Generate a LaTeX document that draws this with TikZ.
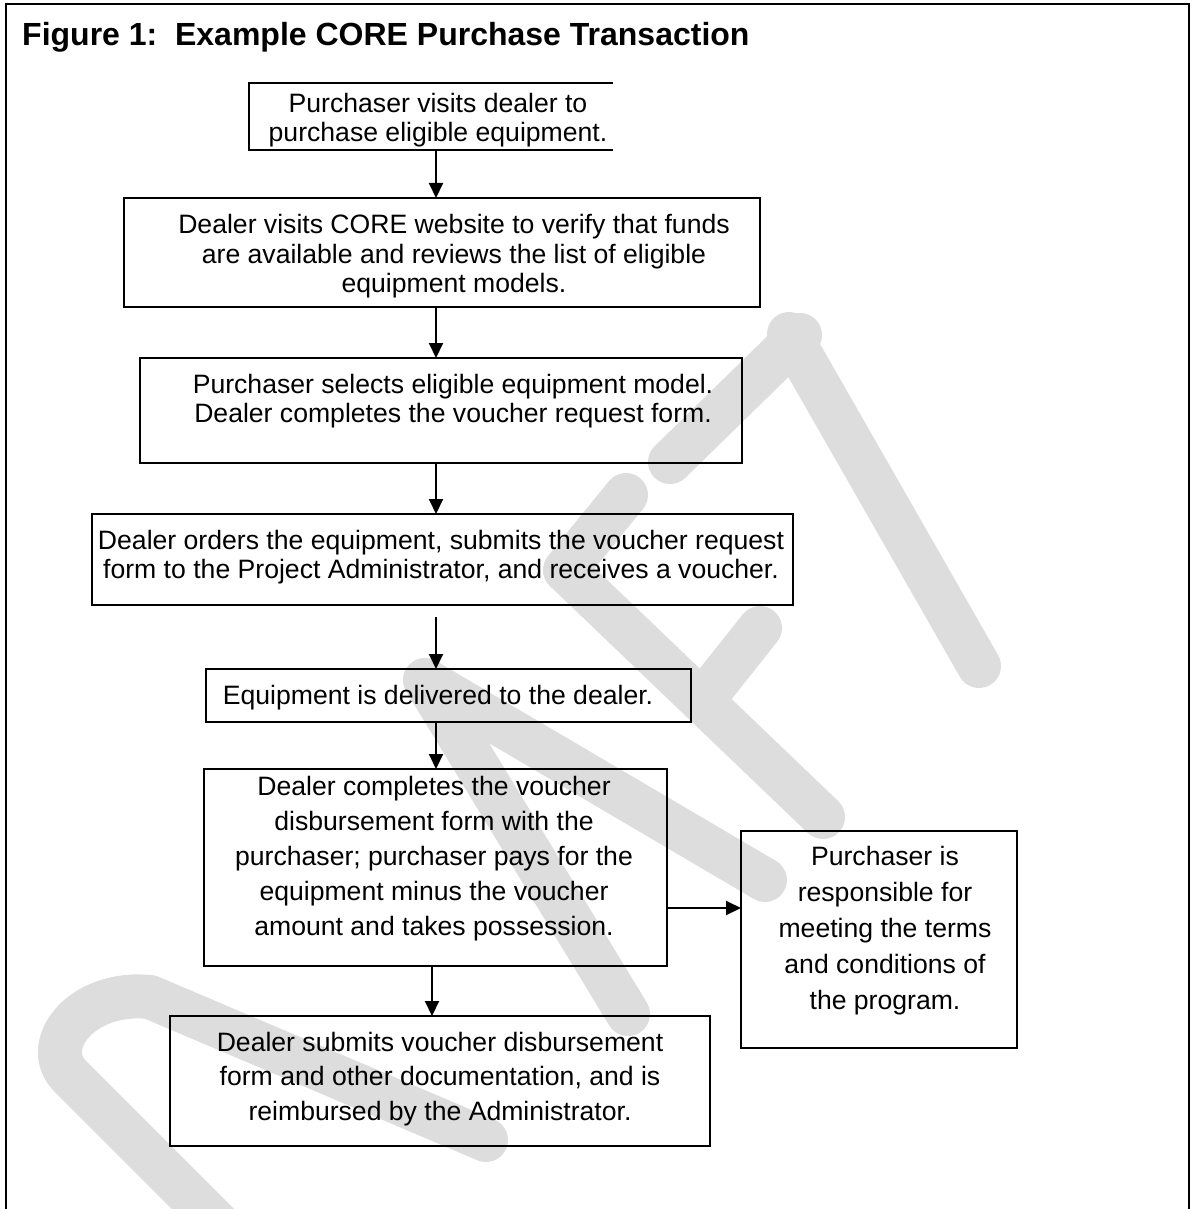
\documentclass[tikz,border=0pt]{standalone}
\usepackage{fontspec}
\setmainfont{Liberation Sans}
\usetikzlibrary{arrows.meta}
\definecolor{wmgray}{RGB}{221,221,221}
\begin{document}
\begin{tikzpicture}[x=1pt,y=-1pt,
  boxline/.style={draw=black,line width=2.8pt},
  box/.style={boxline,inner sep=0pt,outer sep=0pt},
  txt/.style={align=center,inner sep=0pt,font=\fontsize{26.6}{#1}\selectfont},
  txt/.default=29,
  arr/.style={draw=black,line width=2pt,-{Triangle[length=15pt,width=14pt]}},
  wm/.style={draw=wmgray,line width=44pt,line cap=round,line join=round}]
\useasboundingbox (0,0) rectangle (1191,1209);
% watermark (DRAFT)
\draw[wm] (230,1236) -- (70,1076) .. controls (40,1046) and (80,990) .. (150,997) -- (486,1140);
\draw[wm] (765,880) -- (425,680) -- (628,1014);
\draw[wm] (626,495) -- (565,570) -- (823,817);
\draw[wm] (760,628) -- (702,701);
\draw[wm] (670,462) -- (800,335);
\draw[wm] (789,334) -- (979,666);
% frame
\draw[draw=black,line width=2.6pt] (6,1215) -- (6,4) -- (1189,4) -- (1189,1215);
\node[anchor=base west,inner sep=0pt,font=\bfseries\fontsize{32}{36}\selectfont] (title) at (22,46) {Figure 1:\ \ Example CORE Purchase Transaction};
% boxes
\node[inner sep=0pt,outer sep=0pt,minimum width=364pt,minimum height=67pt] (b1) at (431,116.5) {};
\draw[boxline] (b1.north east) -- (b1.north west) -- (b1.south west) -- (b1.south east);
\node[box,minimum width=636pt,minimum height=109pt] (b2) at (442,252.5) {};
\node[box,minimum width=602pt,minimum height=105pt] (b3) at (441,410.5) {};
\node[box,minimum width=701pt,minimum height=91pt] (b4) at (442.5,559.5) {};
\node[box,minimum width=485pt,minimum height=53pt] (b5) at (448.5,695.5) {};
\node[box,minimum width=463pt,minimum height=197pt] (b6) at (435.5,867.5) {};
\node[box,minimum width=276pt,minimum height=217pt] (b7) at (879,939.5) {};
\node[box,minimum width=540pt,minimum height=130pt] (b8) at (440,1081) {};
% texts
\node[txt] (t1) at (438,120) {Purchaser visits dealer to\\purchase eligible equipment.};
\node[txt=29.5] (t2) at (454,256.5) {Dealer visits CORE website to verify that funds\\are available and reviews the list of eligible\\equipment models.};
\node[txt] (t3) at (453,401.5) {Purchaser selects eligible equipment model.\\Dealer completes the voucher request form.};
\node[txt] (t4) at (441,557.5) {Dealer orders the equipment, submits the voucher request\\form to the Project Administrator, and receives a voucher.};
\node[txt] (t5) at (438,698) {Equipment is delivered to the dealer.};
\node[txt=35] (t6) at (434,859) {Dealer completes the voucher\\disbursement form with the\\purchaser; purchaser pays for the\\equipment minus the voucher\\amount and takes possession.};
\node[txt=36] (t7) at (885,931) {Purchaser is\\responsible for\\meeting the terms\\and conditions of\\the program.};
\node[txt=34.5] (t8) at (440,1079) {Dealer submits voucher disbursement\\form and other documentation, and is\\reimbursed by the Administrator.};
% connectors
\coordinate (ax) at (436,0);
\coordinate (ax2) at (432,0);
\coordinate (ay) at (0,908);
\draw[arr] (b1.south -| ax) -- (b2.north -| ax);
\draw[arr] (b2.south -| ax) -- (b3.north -| ax);
\draw[arr] (b3.south -| ax) -- (b4.north -| ax);
\draw[arr,shorten <=12pt] (b4.south -| ax) -- (b5.north -| ax);
\draw[arr] (b5.south -| ax) -- (b6.north -| ax);
\draw[arr] (b6.south -| ax2) -- (b8.north -| ax2);
\draw[arr] (b6.east |- ay) -- (b7.west |- ay);
\end{tikzpicture}
\end{document}
